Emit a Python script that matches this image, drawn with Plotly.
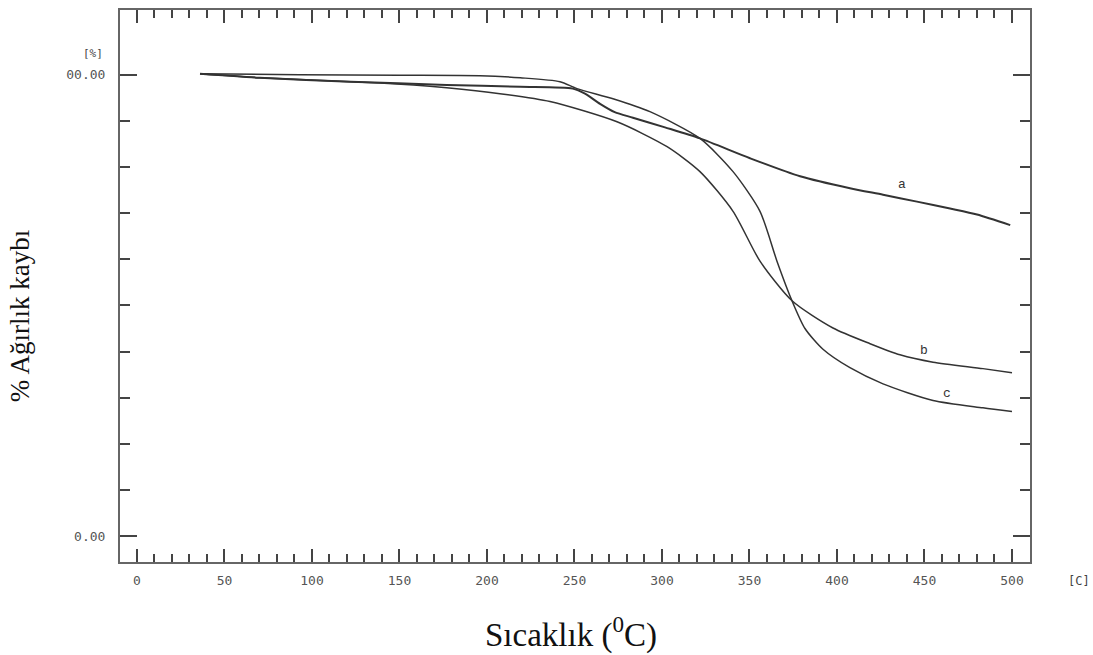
import plotly.graph_objects as go

# Thermogravimetric curves: temperature (°C) vs. remaining weight (%)
temp_a = [36, 70, 122, 177, 219, 249, 256, 264.6, 273, 283.4, 301.7, 321.7, 350.3, 378.9, 407.4, 426.3, 445.7, 464.6, 480, 499]
wt_a = [100.2, 99.35, 98.5, 97.8, 97.4, 97.0, 95.9, 93.7, 91.9, 90.7, 88.6, 86.2, 81.9, 78.0, 75.4, 74.0, 72.5, 71.0, 69.7, 67.4]

temp_b = [36, 70, 122, 158, 177, 207.4, 236, 274.3, 302.9, 321.7, 340.6, 356, 374.3, 397.7, 418.9, 436, 454.9, 483.4, 500]
wt_b = [100.2, 99.35, 98.5, 97.8, 97.2, 95.9, 94.2, 89.8, 84.4, 79.0, 70.4, 59.6, 51.0, 45.1, 41.7, 39.3, 37.7, 36.3, 35.4]

temp_c = [36, 93, 150, 196, 219, 241.7, 251.4, 272, 293.1, 321.7, 340.6, 356, 365.7, 374.3, 381.7, 392, 407.4, 426.3, 454.9, 483.4, 500]
wt_c = [100.2, 100.0, 99.9, 99.8, 99.35, 98.5, 97.0, 94.8, 92.0, 86.2, 79.0, 70.4, 59.6, 51.0, 45.0, 40.5, 36.5, 33.0, 29.4, 27.8, 27.0]

curve_names = ["a", "b", "c"]
label_x = [437, 450, 463]
label_y = [76.2, 40.2, 30.9]

x_ticks = list(range(0, 501, 50))
x_minor = list(range(0, 501, 10))
y_ticks = [0, 100]
y_ticktext = ["0.00", "00.00"]
y_minor = list(range(10, 100, 10))

mono = "DejaVu Sans Mono"
serif = "Liberation Serif"
ink = "#333333"

fig = go.Figure()
for name, xs, ys, w in [("a", temp_a, wt_a, 2.0), ("b", temp_b, wt_b, 1.5), ("c", temp_c, wt_c, 1.5)]:
    fig.add_trace(go.Scatter(
        x=xs, y=ys, mode="lines", name=name,
        line=dict(color=ink, width=w, shape="spline", smoothing=0.7),
        showlegend=False, hoverinfo="skip",
    ))

for name, lx, ly in zip(curve_names, label_x, label_y):
    fig.add_annotation(x=lx, y=ly, text=name, showarrow=False,
                       font=dict(family="Liberation Mono", size=13, color="#333"))

fig.add_annotation(xref="paper", yref="paper", x=-0.0165, y=0.921, xanchor="right",
                   yanchor="middle", text="[%]", showarrow=False,
                   font=dict(family=mono, size=11, color="#444"))
fig.add_annotation(xref="paper", yref="paper", x=1.04, y=-0.0345, xanchor="left",
                   yanchor="middle", text="[C]", showarrow=False,
                   font=dict(family=mono, size=12, color="#444"))

fig.add_annotation(xref="paper", yref="paper", x=0.4955, y=-0.128, xanchor="center",
                   yanchor="middle", text="Sıcaklık (<sup>0</sup>C)", showarrow=False,
                   font=dict(family=serif, size=33, color="#111"))
fig.add_annotation(xref="paper", yref="paper", x=-0.109, y=0.445, xanchor="center",
                   yanchor="middle", text="% Ağırlık kaybı", textangle=-90, showarrow=False,
                   font=dict(family=serif, size=27, color="#111"))

fig.update_xaxes(
    range=[-9.71, 510.29], tickmode="array", tickvals=x_ticks,
    ticks="inside", ticklen=13, tickwidth=2, tickcolor="#444",
    minor=dict(tickmode="array", tickvals=x_minor, ticks="inside", ticklen=8,
               tickwidth=2, tickcolor="#444", showgrid=False),
    showline=True, linecolor="#666", linewidth=2, mirror="ticks",
    showgrid=False, zeroline=False,
    tickfont=dict(family=mono, size=13, color="#555"), ticklabelstandoff=5,
)
fig.update_yaxes(
    range=[-5.62, 114.04], tickmode="array", tickvals=y_ticks, ticktext=y_ticktext,
    ticks="inside", ticklen=17, tickwidth=2, tickcolor="#444",
    minor=dict(tickmode="array", tickvals=y_minor, ticks="inside", ticklen=10,
               tickwidth=2, tickcolor="#444", showgrid=False),
    showline=True, linecolor="#666", linewidth=2, mirror="ticks",
    showgrid=False, zeroline=False,
    tickfont=dict(family=mono, size=13, color="#555"), ticklabelstandoff=10,
)

fig.update_layout(
    width=1093, height=655,
    margin=dict(l=120, r=63, t=8, b=93),
    paper_bgcolor="white", plot_bgcolor="white",
)

fig.write_html("out.html")
